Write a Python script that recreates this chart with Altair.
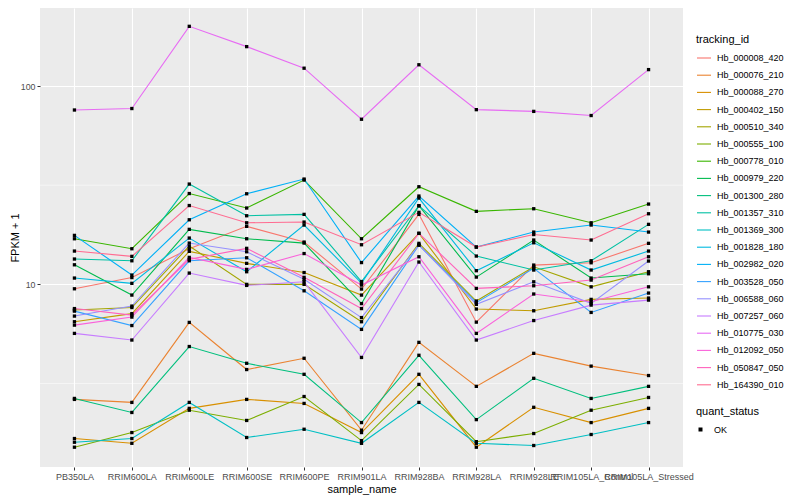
import altair as alt
import pandas as pd

samples = ["PB350LA", "RRIM600LA", "RRIM600LE", "RRIM600SE", "RRIM600PE", "RRIM901LA",
           "RRIM928BA", "RRIM928LA", "RRIM928LE", "RRIM105LA_Control", "RRIM105LA_Stressed"]

ids = ["Hb_000008_420", "Hb_000076_210", "Hb_000088_270", "Hb_000402_150", "Hb_000510_340",
       "Hb_000555_100", "Hb_000778_010", "Hb_000979_220", "Hb_001300_280", "Hb_001357_310",
       "Hb_001369_300", "Hb_001828_180", "Hb_002982_020", "Hb_003528_050", "Hb_006588_060",
       "Hb_007257_060", "Hb_010775_030", "Hb_012092_050", "Hb_050847_050", "Hb_164390_010"]

hb_000008_420 = [9.50, 10.82, 15.12, 19.61, 16.34, 9.47, 22.54, 6.45, 12.51, 12.85, 16.10]
hb_000076_210 = [2.63, 2.54, 6.43, 3.72, 4.24, 1.84, 5.10, 3.06, 4.49, 3.87, 3.47]
hb_000088_270 = [1.67, 1.58, 2.37, 2.63, 2.51, 1.79, 3.52, 1.51, 2.40, 2.01, 2.37]
hb_000402_150 = [6.48, 7.12, 14.67, 12.76, 11.47, 8.83, 18.08, 7.51, 7.36, 8.40, 8.53]
hb_000510_340 = [7.42, 7.64, 15.60, 10.00, 10.00, 6.48, 16.10, 8.24, 12.27, 9.72, 11.58]
hb_000555_100 = [1.51, 1.79, 2.32, 2.06, 2.72, 1.63, 3.13, 1.61, 1.77, 2.32, 2.69]
hb_000778_010 = [16.98, 15.12, 28.70, 24.26, 33.57, 16.98, 31.06, 23.34, 24.06, 20.44, 25.40]
hb_000979_220 = [12.55, 8.83, 18.94, 16.98, 16.15, 8.00, 24.91, 10.88, 16.73, 10.76, 11.31]
hb_001300_280 = [2.66, 2.26, 4.86, 4.00, 3.52, 2.01, 4.39, 2.08, 3.36, 2.66, 3.06]
hb_001357_310 = [13.42, 13.15, 32.04, 22.18, 22.54, 10.33, 24.91, 13.89, 11.81, 13.15, 20.07]
hb_001369_300 = [1.60, 1.67, 2.54, 1.69, 1.86, 1.58, 2.54, 1.58, 1.54, 1.75, 2.01]
hb_001828_180 = [10.76, 10.12, 17.12, 11.58, 19.91, 10.15, 27.24, 11.72, 16.21, 11.81, 14.72]
hb_002982_020 = [17.66, 11.14, 21.17, 28.63, 33.96, 12.88, 27.88, 15.42, 18.35, 19.91, 18.35]
hb_003528_050 = [7.33, 6.20, 13.15, 13.62, 9.28, 5.93, 15.78, 8.09, 12.04, 7.22, 9.04]
hb_006588_060 = [6.92, 7.77, 16.15, 14.60, 10.60, 6.80, 15.78, 7.93, 10.30, 8.02, 13.11]
hb_007257_060 = [5.66, 5.24, 11.40, 9.88, 10.30, 4.28, 12.96, 5.24, 6.57, 7.86, 8.33]
hb_010775_030 = [75.7, 77.0, 200.0, 158.0, 123.0, 68.0, 128.0, 76.0, 74.5, 71.0, 121.0]
hb_012092_050 = [6.23, 6.84, 13.68, 11.90, 14.30, 9.92, 13.78, 5.66, 8.94, 8.17, 9.72]
hb_050847_050 = [7.55, 7.00, 13.37, 15.19, 10.85, 7.55, 18.08, 9.54, 9.84, 10.51, 13.78]
hb_164390_010 = [14.72, 13.84, 24.97, 20.44, 20.61, 15.84, 23.07, 15.42, 17.83, 16.73, 22.70]

series = [hb_000008_420, hb_000076_210, hb_000088_270, hb_000402_150, hb_000510_340,
          hb_000555_100, hb_000778_010, hb_000979_220, hb_001300_280, hb_001357_310,
          hb_001369_300, hb_001828_180, hb_002982_020, hb_003528_050, hb_006588_060,
          hb_007257_060, hb_010775_030, hb_012092_050, hb_050847_050, hb_164390_010]

palette = ["#F8766D", "#EA8331", "#D89000", "#C09B00", "#A3A500", "#7CAE00", "#39B600",
           "#00BB4E", "#00BF7D", "#00C1A3", "#00BFC4", "#00BAE0", "#00B0F6", "#35A2FF",
           "#9590FF", "#C77CFF", "#E76BF3", "#FA62DB", "#FF62BC", "#FF6C91"]

major_breaks = [10, 100]
minor_breaks = [3.1623, 31.623]

rows = []
for tid, vals in zip(ids, series):
    for s, v in zip(samples, vals):
        rows.append({"tracking_id": tid, "sample_name": s, "fpkm": v, "quant_status": "OK"})
df = pd.DataFrame(rows)
grid_df = pd.DataFrame({"fpkm": minor_breaks})

yscale = alt.Scale(type="log", domain=[1.2, 247.4], nice=False, zero=False)
xscale = alt.Scale(type="point", padding=0.6, domain=samples)

x_axis = alt.Axis(labelAngle=0, labelOverlap=False, labelLimit=300, labelFontSize=9,
                  labelColor="#4D4D4D", tickColor="#333333", tickSize=3, labelPadding=2,
                  domain=False, grid=True, gridColor="white", gridWidth=1.1,
                  titleFontSize=11, titleFontWeight="normal", titleColor="black",
                  titlePadding=2)
y_axis = alt.Axis(values=major_breaks, format="d", labelFontSize=8.8, labelColor="#4D4D4D",
                  tickColor="#333333", tickSize=3, labelPadding=2, domain=False,
                  grid=True, gridColor="white", gridWidth=1.1, titleFontSize=11,
                  titleFontWeight="normal", titleColor="black", titlePadding=0)

minor = alt.Chart(grid_df).mark_rule(color="white", strokeWidth=0.55).encode(
    y=alt.Y("fpkm:Q", scale=yscale, axis=y_axis, title="FPKM + 1")
)

lines = alt.Chart(df).mark_line(strokeWidth=1.1).encode(
    x=alt.X("sample_name:N", scale=xscale, sort=samples, title="sample_name", axis=x_axis),
    y=alt.Y("fpkm:Q", scale=yscale, axis=y_axis, title="FPKM + 1"),
    color=alt.Color("tracking_id:N", scale=alt.Scale(domain=ids, range=palette),
                    legend=alt.Legend(title="tracking_id", orient="none", legendX=656, legendY=26,
                                      symbolType="stroke", symbolSize=196, symbolStrokeWidth=1.1,
                                      labelFontSize=9, titleFontSize=11, titleFontWeight="normal",
                                      titleColor="black", labelColor="black", rowPadding=4.2,
                                      titlePadding=5, labelOffset=5)),
    detail="tracking_id:N",
)

points = alt.Chart(df).mark_point(filled=True, color="black", size=11, opacity=1).encode(
    x=alt.X("sample_name:N", scale=xscale, sort=samples, title="sample_name", axis=x_axis),
    y=alt.Y("fpkm:Q", scale=yscale, axis=y_axis, title="FPKM + 1"),
    shape=alt.Shape("quant_status:N", scale=alt.Scale(domain=["OK"], range=["square"]),
                    legend=alt.Legend(title="quant_status", orient="none", legendX=656, legendY=398,
                                      symbolSize=16, symbolFillColor="black", symbolStrokeColor="black",
                                      labelFontSize=9, titleFontSize=11, titleFontWeight="normal",
                                      titleColor="black", labelColor="black", titlePadding=8,
                                      labelOffset=9)),
)

chart = alt.layer(minor, lines, points).properties(
    width=643, height=459,
    autosize=alt.AutoSizeParams(type="none"),
    padding={"left": 32, "top": 0, "right": 109, "bottom": 29},
).configure(font="Liberation Sans").configure_view(fill="#EBEBEB", strokeWidth=0)

chart.save("out.html", embed_options={"renderer": "svg", "actions": False})
